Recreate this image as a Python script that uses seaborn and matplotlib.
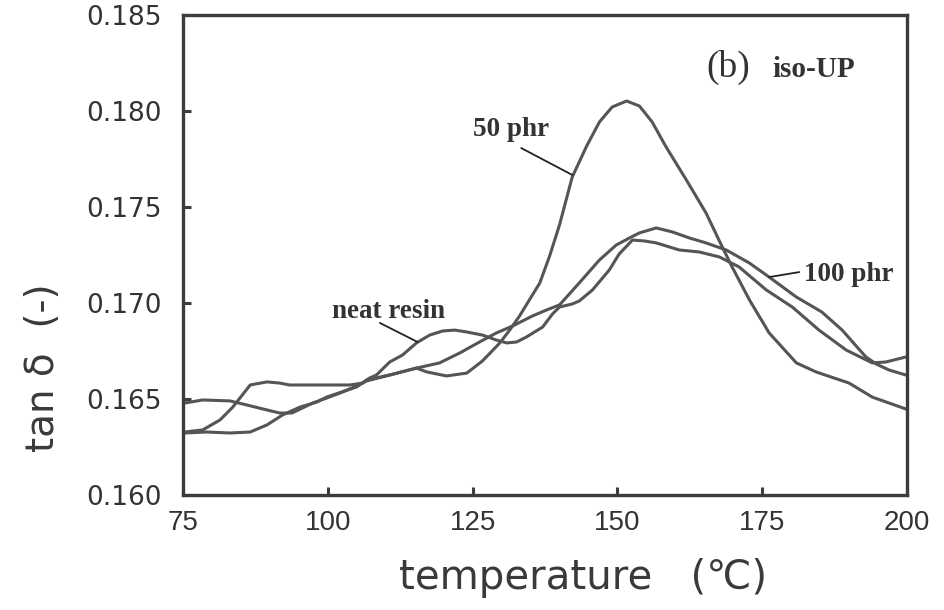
import matplotlib
matplotlib.use("Agg")
import matplotlib.pyplot as plt
import seaborn as sns
import pandas as pd

# ---- data ----
neat_t = [75.3, 78.4, 81.4, 83.6, 86.6, 89.5, 91.7, 93.4, 98.6, 103.8, 106.0, 107.2, 108.4,
          110.7, 112.9, 115.3, 117.6, 119.8, 121.9, 124.0, 126.7, 129.1, 130.9, 132.6, 134.3,
          137.1, 138.8, 140.0, 142.2, 143.4, 145.7, 148.6, 150.3, 152.6, 154.7, 156.7, 160.7,
          164.1, 167.6, 171.0, 175.7, 180.2, 184.8, 189.5, 194.0, 196.4, 199.8]
neat_v = [0.16328, 0.16339, 0.16391, 0.16458, 0.16573, 0.16589, 0.16583, 0.16573, 0.16573,
          0.16573, 0.16583, 0.16609, 0.16625, 0.16693, 0.16729, 0.16792, 0.16833, 0.16854,
          0.16859, 0.16849, 0.16833, 0.16807, 0.16792, 0.16797, 0.16823, 0.16875, 0.16943,
          0.16979, 0.16995, 0.17010, 0.17068, 0.17172, 0.17255, 0.17328, 0.17323, 0.17313,
          0.17276, 0.17266, 0.17240, 0.17188, 0.17068, 0.16979, 0.16859, 0.16755, 0.16688,
          0.16693, 0.16719]

phr50_t = [75.3, 78.4, 83.1, 86.0, 88.8, 91.7, 93.8, 97.4, 99.8, 102.1, 105.0, 106.7, 110.7,
           115.3, 117.1, 120.5, 124.0, 126.7, 129.7, 131.4, 133.1, 134.8, 136.6, 138.3, 140.0,
           142.2, 144.7, 146.9, 149.1, 151.6, 153.8, 156.0, 158.4, 161.9, 165.3, 168.1, 169.8,
           172.8, 176.2, 180.9, 184.3, 190.0, 194.0, 199.8]
phr50_v = [0.16479, 0.16495, 0.16490, 0.16469, 0.16448, 0.16427, 0.16427, 0.16479, 0.16505,
           0.16531, 0.16568, 0.16594, 0.16625, 0.16661, 0.16641, 0.16620, 0.16635, 0.16698,
           0.16792, 0.16859, 0.16932, 0.17016, 0.17104, 0.17245, 0.17406, 0.17656, 0.17818,
           0.17943, 0.18021, 0.18052, 0.18026, 0.17943, 0.17813, 0.17641, 0.17469, 0.17292,
           0.17188, 0.17016, 0.16844, 0.16688, 0.16641, 0.16583, 0.16510, 0.16448]

phr100_t = [75.3, 79.1, 83.1, 86.6, 89.5, 92.2, 95.2, 98.1, 99.8, 105.0, 106.7, 110.7, 115.3,
            119.3, 122.8, 126.2, 129.1, 131.9, 135.3, 137.8, 140.0, 143.4, 146.9, 149.8, 152.1,
            153.8, 156.7, 159.5, 162.4, 165.3, 168.8, 172.8, 176.2, 180.9, 185.3, 188.8, 192.9,
            194.7, 196.9, 199.8]
phr100_v = [0.16323, 0.16328, 0.16323, 0.16328, 0.16365, 0.16417, 0.16458, 0.16484, 0.16510,
            0.16563, 0.16599, 0.16625, 0.16661, 0.16688, 0.16740, 0.16797, 0.16844, 0.16880,
            0.16932, 0.16964, 0.16990, 0.17104, 0.17224, 0.17302, 0.17339, 0.17365, 0.17391,
            0.17370, 0.17339, 0.17313, 0.17276, 0.17208, 0.17135, 0.17031, 0.16953, 0.16859,
            0.16719, 0.16682, 0.16651, 0.16625]

series_names = ["neat resin", "50 phr", "100 phr"]
x_ticks = [75, 100, 125, 150, 175, 200]
x_tick_labels = ["75", "100", "125", "150", "175", "200"]
y_ticks = [0.160, 0.165, 0.170, 0.175, 0.180, 0.185]
y_tick_labels = ["0.160", "0.165", "0.170", "0.175", "0.180", "0.185"]

frames = []
for name, tt, vv in zip(series_names, [neat_t, phr50_t, phr100_t], [neat_v, phr50_v, phr100_v]):
    frames.append(pd.DataFrame({"temperature": tt, "tan_delta": vv, "series": name}))
df = pd.concat(frames, ignore_index=True)

# ---- style ----
sns.set_theme(style="white")
plt.rcParams["font.family"] = ["DejaVu Sans"]

line_col = "#555555"
frame_col = "#3c3c3c"

fig = plt.figure(figsize=(9.45, 6.10), dpi=100)
ax = fig.add_axes([183 / 945, 1 - 495 / 610, (907 - 183) / 945, (495 - 15) / 610])

sns.lineplot(data=df, x="temperature", y="tan_delta", hue="series",
             palette=[line_col] * 3, estimator=None, legend=False,
             linewidth=2.2, ax=ax)
for ln in ax.lines:
    ln.set_solid_joinstyle("round")
    ln.set_solid_capstyle("round")

ax.set_xlim(75, 200)
ax.set_ylim(0.160, 0.185)
ax.set_xticks(x_ticks)
ax.set_yticks(y_ticks)
ax.set_xticklabels(x_tick_labels, fontsize=20, family="Liberation Sans", color="#333333")
ax.set_yticklabels(y_tick_labels, fontsize=19, family="DejaVu Sans", color="#333333")
ax.tick_params(axis="both", direction="in", length=6, width=2.2, color=frame_col,
               top=False, right=False, left=True, bottom=True)
ax.tick_params(axis="x", pad=11)
ax.tick_params(axis="y", pad=15)
for sp in ax.spines.values():
    sp.set_visible(True)
    sp.set_color(frame_col)
    sp.set_linewidth(2.4)
ax.set_xlabel("")
ax.set_ylabel("")
ax.grid(False)

# axis titles
fig.text(583 / 945, 1 - 578 / 610, "temperature   (\u2103)", ha="center", va="center",
         fontsize=29, color="#3a3a3a", family="DejaVu Sans")
fig.text(43 / 945, 1 - 368 / 610, "tan \u03b4  (-)", ha="center", va="center",
         rotation=90, fontsize=28, color="#3a3a3a", family="DejaVu Sans")

# annotations
serif = ["Liberation Serif", "DejaVu Serif"]
ax.text(165.3, 0.18229, "(b)", fontsize=27, family=serif, color="#333333", va="center", ha="left")
ax.text(176.7, 0.18215, "iso-UP", fontsize=21, family=serif, color="#333333",
        va="center", ha="left", fontweight="bold")
ax.text(125.0, 0.17906, "50 phr", fontsize=19.5, family=serif, color="#333333",
        va="center", ha="left", fontweight="bold")
ax.text(100.7, 0.16958, "neat resin", fontsize=19.5, family=serif, color="#333333",
        va="center", ha="left", fontweight="bold")
ax.text(182.2, 0.17146, "100 phr", fontsize=19.5, family=serif, color="#333333",
        va="center", ha="left", fontweight="bold")

ax.plot([133.4, 142.2], [0.17807, 0.17667], color="#222222", lw=1.3)
ax.plot([109.0, 115.5], [0.16896, 0.16797], color="#222222", lw=1.3)
ax.plot([176.2, 181.4], [0.17135, 0.17161], color="#222222", lw=1.3)

fig.savefig("out.png", dpi=100, facecolor="white")
